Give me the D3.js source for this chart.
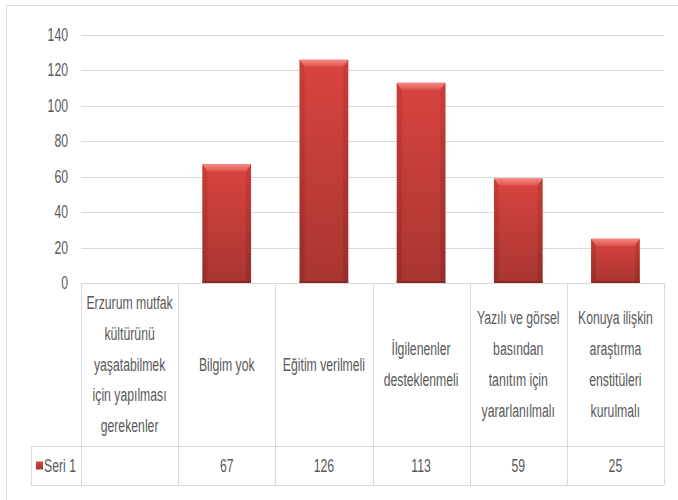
<!DOCTYPE html>
<html>
<head>
<meta charset="utf-8">
<script src="https://cdn.jsdelivr.net/npm/d3@7"></script>
<style>
  body { margin: 0; background: #fff; }
  text { font-family: "Liberation Sans", Arial, sans-serif; fill: #595959; }
</style>
</head>
<body>
<script>
// data
var categories = [
  "Erzurum mutfak|kültürünü|yaşatabilmek|için yapılması|gerekenler",
  "Bilgim yok",
  "Eğitim verilmeli",
  "İlgilenenler|desteklenmeli",
  "Yazılı ve görsel|basından|tanıtım için|yararlanılmalı",
  "Konuya ilişkin|araştırma|enstitüleri|kurulmalı"
];
var values = [null, 67, 126, 113, 59, 25];
var yTicks = [0, 20, 40, 60, 80, 100, 120, 140];
var seriesName = "Seri 1";

var W = 678, H = 500;
var plotLeft = 81, plotRight = 664, plotTop = 35, plotBottom = 283;
var headBottom = 446, rowBottom = 485, legendLeft = 31;
var sx = 0.68; // horizontal squeeze of the text

var svg = d3.select("body").append("svg")
    .attr("width", W)
    .attr("height", H);

var defs = svg.append("defs");
var g1 = defs.append("linearGradient").attr("id", "body").attr("x1", 0).attr("y1", 0).attr("x2", 0).attr("y2", 1);
g1.append("stop").attr("offset", "0%").attr("stop-color", "#d9443f");
g1.append("stop").attr("offset", "100%").attr("stop-color", "#a83530");
var g2 = defs.append("linearGradient").attr("id", "bevel").attr("x1", 0).attr("y1", 0).attr("x2", 0).attr("y2", 1);
g2.append("stop").attr("offset", "0%").attr("stop-color", "#f58a85");
g2.append("stop").attr("offset", "100%").attr("stop-color", "#e0524d");
var g3 = defs.append("linearGradient").attr("id", "side").attr("x1", 0).attr("y1", 0).attr("x2", 0).attr("y2", 1);
g3.append("stop").attr("offset", "0%").attr("stop-color", "#c23a36");
g3.append("stop").attr("offset", "100%").attr("stop-color", "#8e2b28");

// chart border
svg.append("rect")
  .attr("x", 6.5).attr("y", 5.5)
  .attr("width", W + 10).attr("height", H + 10)
  .attr("fill", "none").attr("stroke", "#d9d9d9");

var x = d3.scaleBand().domain(d3.range(categories.length)).range([plotLeft, plotRight]).padding(0);
var y = d3.scaleLinear().domain([0, 140]).range([plotBottom, plotTop]);

// gridlines
svg.append("g").selectAll("line")
  .data(yTicks.filter(function(d) { return d > 0; }))
  .enter().append("line")
  .attr("x1", plotLeft).attr("x2", plotRight)
  .attr("y1", function(d) { return Math.round(y(d)) + 0.5; })
  .attr("y2", function(d) { return Math.round(y(d)) + 0.5; })
  .attr("stroke", "#d9d9d9");

// y labels
svg.append("g").selectAll("text")
  .data(yTicks)
  .enter().append("text")
  .attr("transform", function(d) { return "translate(68," + (y(d) + 6) + ") scale(" + sx + ",1)"; })
  .attr("text-anchor", "end")
  .attr("font-size", 18)
  .text(function(d) { return d; });

// bars
var bw = x.bandwidth() * 0.5;
var bars = svg.append("g").selectAll("g")
  .data(values.map(function(v, i) { return {v: v, i: i}; }).filter(function(d) { return d.v != null; }))
  .enter().append("g");

bars.append("rect")
  .attr("x", function(d) { return x(d.i) + (x.bandwidth() - bw) / 2; })
  .attr("y", function(d) { return y(d.v); })
  .attr("width", bw)
  .attr("height", function(d) { return plotBottom - y(d.v); })
  .attr("fill", "url(#body)");
// side shading
bars.append("path")
  .attr("d", function(d) {
    var x0 = x(d.i) + (x.bandwidth() - bw) / 2, x1 = x0 + bw, y0 = y(d.v), e = 5;
    return "M" + x0 + "," + y0 + "L" + (x0 + e) + "," + (y0 + 7) + "L" + (x0 + e) + "," + (plotBottom - 2) + "L" + x0 + "," + plotBottom + "Z" +
           "M" + x1 + "," + y0 + "L" + (x1 - e) + "," + (y0 + 7) + "L" + (x1 - e) + "," + (plotBottom - 2) + "L" + x1 + "," + plotBottom + "Z";
  })
  .attr("fill", "url(#side)")
  .attr("opacity", 0.7);
// top bevel
bars.append("path")
  .attr("d", function(d) {
    var x0 = x(d.i) + (x.bandwidth() - bw) / 2, x1 = x0 + bw, y0 = y(d.v), e = 5;
    return "M" + x0 + "," + y0 + "L" + x1 + "," + y0 + "L" + (x1 - e) + "," + (y0 + 7) + "L" + (x0 + e) + "," + (y0 + 7) + "Z";
  })
  .attr("fill", "url(#bevel)");
// bottom dark band
bars.append("rect")
  .attr("x", function(d) { return x(d.i) + (x.bandwidth() - bw) / 2; })
  .attr("y", plotBottom - 2)
  .attr("width", bw)
  .attr("height", 2)
  .attr("fill", "#8a2a27");

// data table
var tbl = svg.append("g").attr("stroke", "#d9d9d9").attr("fill", "none");
tbl.append("line").attr("x1", plotLeft).attr("x2", plotRight).attr("y1", plotBottom + 0.5).attr("y2", plotBottom + 0.5);
tbl.append("line").attr("x1", legendLeft).attr("x2", plotRight).attr("y1", headBottom + 0.5).attr("y2", headBottom + 0.5);
tbl.append("line").attr("x1", legendLeft).attr("x2", plotRight).attr("y1", rowBottom + 0.5).attr("y2", rowBottom + 0.5);
tbl.append("line").attr("x1", legendLeft + 0.5).attr("x2", legendLeft + 0.5).attr("y1", headBottom).attr("y2", rowBottom);
tbl.selectAll(".vl")
  .data(d3.range(categories.length + 1))
  .enter().append("line")
  .attr("x1", function(i) { return Math.round(i < categories.length ? x(i) : plotRight) + 0.5; })
  .attr("x2", function(i) { return Math.round(i < categories.length ? x(i) : plotRight) + 0.5; })
  .attr("y1", plotBottom).attr("y2", rowBottom);

// category labels
var lineH = 30.7, headMid = (plotBottom + headBottom) / 2;
categories.forEach(function(c, i) {
  var lines = c.split("|");
  var cx = x(i) + x.bandwidth() / 2;
  svg.append("g").selectAll("text")
    .data(lines)
    .enter().append("text")
    .attr("transform", function(d, k) {
      var cy = headMid + (k - (lines.length - 1) / 2) * lineH + 6;
      return "translate(" + cx + "," + cy + ") scale(" + sx + ",1)";
    })
    .attr("text-anchor", "middle")
    .attr("font-size", 18)
    .text(function(d) { return d; });
});

// value row
var rowMid = (headBottom + rowBottom) / 2;
svg.append("g").selectAll("text")
  .data(values)
  .enter().append("text")
  .attr("transform", function(d, i) { return "translate(" + (x(i) + x.bandwidth() / 2) + "," + (rowMid + 6) + ") scale(" + sx + ",1)"; })
  .attr("text-anchor", "middle")
  .attr("font-size", 18)
  .text(function(d) { return d == null ? "" : d; });

// legend key
svg.append("rect")
  .attr("x", 36).attr("y", rowMid - 4)
  .attr("width", 7).attr("height", 8)
  .attr("fill", "url(#body)");
svg.append("text")
  .attr("transform", "translate(44," + (rowMid + 6) + ") scale(" + sx + ",1)")
  .attr("font-size", 18)
  .text(seriesName);
</script>
</body>
</html>
